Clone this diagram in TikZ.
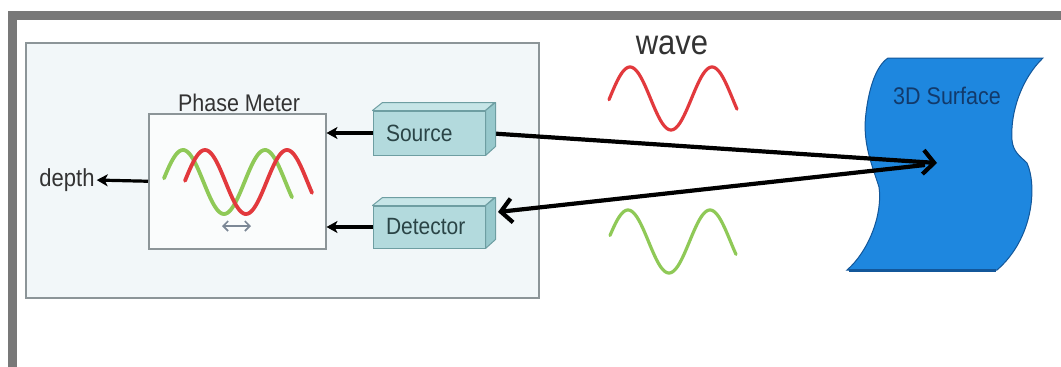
\documentclass[tikz,border=0pt]{standalone}
\usepackage{fontspec}
\usepackage{graphicx}
\setmainfont{Liberation Sans}
\usetikzlibrary{arrows.meta}
\definecolor{framegray}{HTML}{787878}
\definecolor{panelfill}{HTML}{F2F7F9}
\definecolor{panelline}{HTML}{8C9598}
\definecolor{pmfill}{HTML}{FAFCFC}
\definecolor{boxfront}{HTML}{B3DADD}
\definecolor{boxtop}{HTML}{C6E5E7}
\definecolor{boxside}{HTML}{97C8CC}
\definecolor{boxline}{HTML}{6E9EA2}
\definecolor{boxtext}{HTML}{2A4446}
\definecolor{wavered}{HTML}{E2393D}
\definecolor{wavegreen}{HTML}{8FC957}
\definecolor{surfblue}{HTML}{1E87DF}
\definecolor{surfline}{HTML}{13579A}
\definecolor{surftext}{HTML}{123A6B}
\definecolor{txtgray}{HTML}{333333}
\definecolor{dblarrow}{HTML}{7C8896}
\newcommand{\vs}[1]{\scalebox{1}[1.12]{#1}}
\tikzset{
  panelbox/.style={draw=panelline, fill=panelfill, line width=1.5pt, anchor=north west, inner sep=0pt},
  pmbox/.style={draw=panelline, fill=pmfill, line width=1.5pt, anchor=north west, inner sep=0pt},
  devbox/.style={draw=boxline, fill=boxfront, line width=1pt, text=boxtext, text width=86pt, inner xsep=13pt, inner ysep=0pt, align=left, font=\fontsize{21}{23}\selectfont},
  devtop/.style={draw=boxline, fill=boxtop, line width=1pt, line join=round},
  devside/.style={draw=boxline, fill=boxside, line width=1pt, line join=round},
  sarrow/.style={draw=black, line width=3.2pt, -{Stealth[length=11pt,width=12pt,inset=3pt]}},
  barrow/.style={draw=black, line width=4.2pt, -{Straight Barb[length=11pt,width=24pt]}},
  redwave/.style={draw=wavered, line width=3.8pt, line cap=round},
  greenwave/.style={draw=wavegreen, line width=3.8pt, line cap=round},
  lbl/.style={text=txtgray, inner sep=0pt},
}
\begin{document}
\begin{tikzpicture}[x=1pt,y=-1pt]
\useasboundingbox (0,0) rectangle (1061,367);
\fill[white] (0,0) rectangle (1061,367);
\begin{scope}
  \clip (0,0) rectangle (1061,367);
  \draw[framegray, line width=9pt] (12,15) rectangle (1090,400);
\end{scope}

% left panel
\node[panelbox, minimum width=513pt, minimum height=255pt] (panel) at (25,42) {};

% phase meter
\node[pmbox, minimum width=177pt, minimum height=135pt] (pm) at (148,113) {};
\node[lbl, font=\fontsize{21.5}{23}\selectfont] (pmlabel) at (239,103) {\vs{Phase Meter}};

% waves in phase meter
\draw[greenwave] plot[domain=164:292, samples=90] (\x, {182 - 32*cos((\x-183)/82*360)});
\draw[redwave] plot[domain=185:312, samples=90] (\x, {182 - 32*cos((\x-205)/82*360)});
\coordinate (dl) at (222,226);
\coordinate (dr) at (251,226);
\draw[dblarrow, line width=1.6pt, {Straight Barb[length=5pt,width=10pt]}-{Straight Barb[length=5pt,width=10pt]}] (dl) -- (dr);

% depth
\node[lbl, font=\fontsize{22}{24}\selectfont] (depth) at (67,180) {\vs{depth}};

% surface
\path[fill=surfblue, draw=surfline, line width=1pt]
  (888,58) -- (1043,58)
  .. controls (1022,78) and (1010,112) .. (1012,140)
  .. controls (1013,152) and (1020,156) .. (1027,163)
  .. controls (1037,185) and (1034,238) .. (997,270)
  -- (847,270)
  .. controls (868,252) and (883,215) .. (879,187)
  .. controls (872,165) and (862,142) .. (866,113)
  .. controls (869,88) and (876,66) .. (888,58) -- cycle;
\draw[surfline, line width=3pt] (849,270) -- (996,270);
\node[text=surftext, inner sep=0pt, font=\fontsize{21.5}{23}\selectfont] (surflabel) at (947,96) {\vs{3D Surface}};
\coordinate (hit) at (937,163);
\coordinate (hitout) at (925,165);

% wave legend
\node[lbl, font=\fontsize{31}{33}\selectfont] (wave) at (672,45) {\vs{wave}};
\draw[redwave, line width=3.2pt] plot[domain=609:737, samples=90] (\x, {98.5 - 31.5*cos((\x-630)/82*360)});
\draw[greenwave, line width=3.2pt] plot[domain=610:736, samples=90] (\x, {241.5 - 31.5*cos((\x-628)/82*360)});

% device boxes (front faces)
\node[devbox, minimum height=44pt] (src) at (429,133) {\vs{Source}};
\node[devbox, minimum height=42pt] (det) at (429,227) {\vs{Detector}};
\coordinate (detin) at (498,212);

% long arrows (drawn before the 3D faces)
\draw[barrow] (src.east) -- (hit);
\draw[barrow] (hitout) -- (detin);

% 3D faces
\path[devtop] (src.north west) -- ++(10,-8) -- ++(112,0) -- (src.north east) -- cycle;
\path[devside] (src.north east) -- ++(10,-8) -- ++(0,44) -- (src.south east) -- cycle;
\path[devtop] (det.north west) -- ++(10,-8) -- ++(112,0) -- (det.north east) -- cycle;
\path[devside] (det.north east) -- ++(10,-8) -- ++(0,42) -- (det.south east) -- cycle;

% short arrows
\draw[sarrow] (src.west) -- (src.west -| pm.east);
\draw[sarrow] (det.west) -- (det.west -| pm.east);
\draw[sarrow, shorten >=2pt] (pm.west) -- (depth.east);
\end{tikzpicture}
\end{document}
